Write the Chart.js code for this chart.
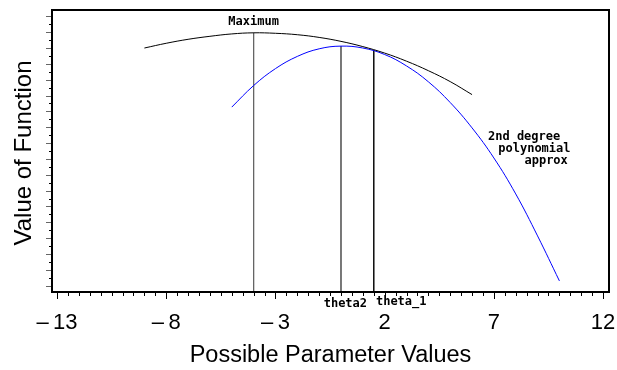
<!DOCTYPE html>
<html><head><meta charset="utf-8">
<script src="https://cdn.jsdelivr.net/npm/chart.js@4"></script>
<style>html,body{margin:0;padding:0;background:#fff;overflow:hidden}canvas{display:block}</style>
</head><body>
<canvas id="c" width="617" height="370"></canvas>
<script>
// ---- data ----
const xTicks = [-13, -8, -3, 2, 7, 12];
const xTickLabels = ['\u2013\u200913', '\u2013\u20098', '\u2013\u20093', '2', '7', '12'];
const functionX = [-9, -8, -7, -6, -5, -4, -3, -2, -1, 0, 1, 2, 3, 4, 5, 6];
const functionY = [15.00, 15.30, 15.55, 15.74, 15.89, 15.96, 15.93, 15.84, 15.67, 15.42, 15.09, 14.68, 14.17, 13.57, 12.88, 12.06];
const approxX = [-5, -4, -3, -2, -1, 0, 1, 2, 3, 4, 5, 6, 7, 8, 9, 10];
const approxY = [11.27, 12.63, 13.70, 14.47, 14.95, 15.12, 15.00, 14.59, 13.87, 12.87, 11.56, 9.96, 8.06, 5.79, 3.14, 0.30];
const markerX = [-4, 0, 1.5];
const markerTop = [15.96, 15.12, 14.87];
const markerLabels = ['Maximum', 'theta2', 'theta_1'];
const approxNote = ['2nd degree', 'polynomial', 'approx'];
const xTitle = 'Possible Parameter Values';
const yTitle = 'Value of Function';

const X_MIN = -13.23, X_MAX = 12.27, Y_MIN = -0.4, Y_MAX = 17.4;

const pts = (xs, ys) => xs.map((x, i) => ({x, y: ys[i]}));

const datasets = [
  {data: pts(functionX, functionY), borderColor: '#000', borderWidth: 1, tension: 0.4},
  {data: pts(approxX, approxY), borderColor: '#0000ff', borderWidth: 1, tension: 0.4}
];
const markerColors = ['#666', '#666', '#111'];
markerX.forEach((x, i) => {
  datasets.push({data: [{x, y: markerTop[i]}, {x, y: Y_MIN}], borderColor: markerColors[i], borderWidth: 1, tension: 0});
});
datasets.forEach(d => { d.showLine = true; d.pointRadius = 0; d.fill = false; });

const decor = {
  id: 'decor',
  afterDraw(chart) {
    const ctx = chart.ctx, a = chart.chartArea;
    const xs = chart.scales.x, ys = chart.scales.y;
    ctx.save();
    // frame
    ctx.strokeStyle = '#000';
    ctx.lineWidth = 2;
    ctx.strokeRect(a.left, a.top, a.right - a.left, a.bottom - a.top);
    // y ticks
    ctx.lineWidth = 1;
    for (let v = 0; v <= 17; v += 0.5) {
      const y = Math.round(ys.getPixelForValue(v)) + 0.5;
      const major = Number.isInteger(v);
      ctx.strokeStyle = major ? '#666' : '#000';
      ctx.beginPath();
      ctx.moveTo(a.left - 1, y);
      ctx.lineTo(a.left - (major ? 6 : 3), y);
      ctx.stroke();
    }
    // x ticks
    const first = xTicks[0], last = xTicks[xTicks.length - 1];
    for (let v = first; v <= last + 1e-9; v += 0.5) {
      const x = Math.round(xs.getPixelForValue(v)) + 0.5;
      const major = xTicks.includes(v);
      ctx.strokeStyle = '#000';
      ctx.beginPath();
      ctx.moveTo(x, a.bottom);
      ctx.lineTo(x, a.bottom + (major ? 7 : 4));
      ctx.stroke();
    }
    // x tick labels
    ctx.fillStyle = '#000';
    ctx.font = '22px "Liberation Sans", Arial, sans-serif';
    ctx.textAlign = 'center';
    ctx.textBaseline = 'middle';
    xTicks.forEach((v, i) => ctx.fillText(xTickLabels[i], xs.getPixelForValue(v), a.bottom + 31));
    // titles
    ctx.font = '23.5px "Liberation Sans", Arial, sans-serif';
    ctx.fillText(xTitle, (a.left + a.right) / 2, a.bottom + 64);
    ctx.save();
    ctx.font = '24px "Liberation Sans", Arial, sans-serif';
    ctx.translate(24, (a.top + a.bottom) / 2 + 2);
    ctx.rotate(-Math.PI / 2);
    ctx.fillText(yTitle, 0, 0);
    ctx.restore();
    // annotations
    ctx.font = 'bold 12px "DejaVu Sans Mono", monospace';
    ctx.textAlign = 'center';
    ctx.fillText(markerLabels[0], xs.getPixelForValue(markerX[0]), ys.getPixelForValue(16.64));
    ctx.fillText(markerLabels[1], xs.getPixelForValue(markerX[1] + 0.2), a.bottom + 12);
    ctx.textAlign = 'left';
    ctx.fillText(markerLabels[2], xs.getPixelForValue(markerX[2] + 0.1), a.bottom + 10);
    const noteX = [6.73, 7.2, 8.4], noteY = [9.38, 8.62, 7.87];
    approxNote.forEach((t, i) => ctx.fillText(t, xs.getPixelForValue(noteX[i]), ys.getPixelForValue(noteY[i])));
    ctx.restore();
  }
};

new Chart(document.getElementById('c'), {
  type: 'scatter',
  data: {datasets},
  options: {
    responsive: false,
    animation: false,
    events: [],
    layout: {padding: {left: 52, top: 10, right: 8, bottom: 78}},
    plugins: {legend: {display: false}, tooltip: {enabled: false}},
    scales: {
      x: {type: 'linear', min: X_MIN, max: X_MAX, display: false},
      y: {type: 'linear', min: Y_MIN, max: Y_MAX, display: false}
    }
  },
  plugins: [decor]
});
</script>
</body></html>
